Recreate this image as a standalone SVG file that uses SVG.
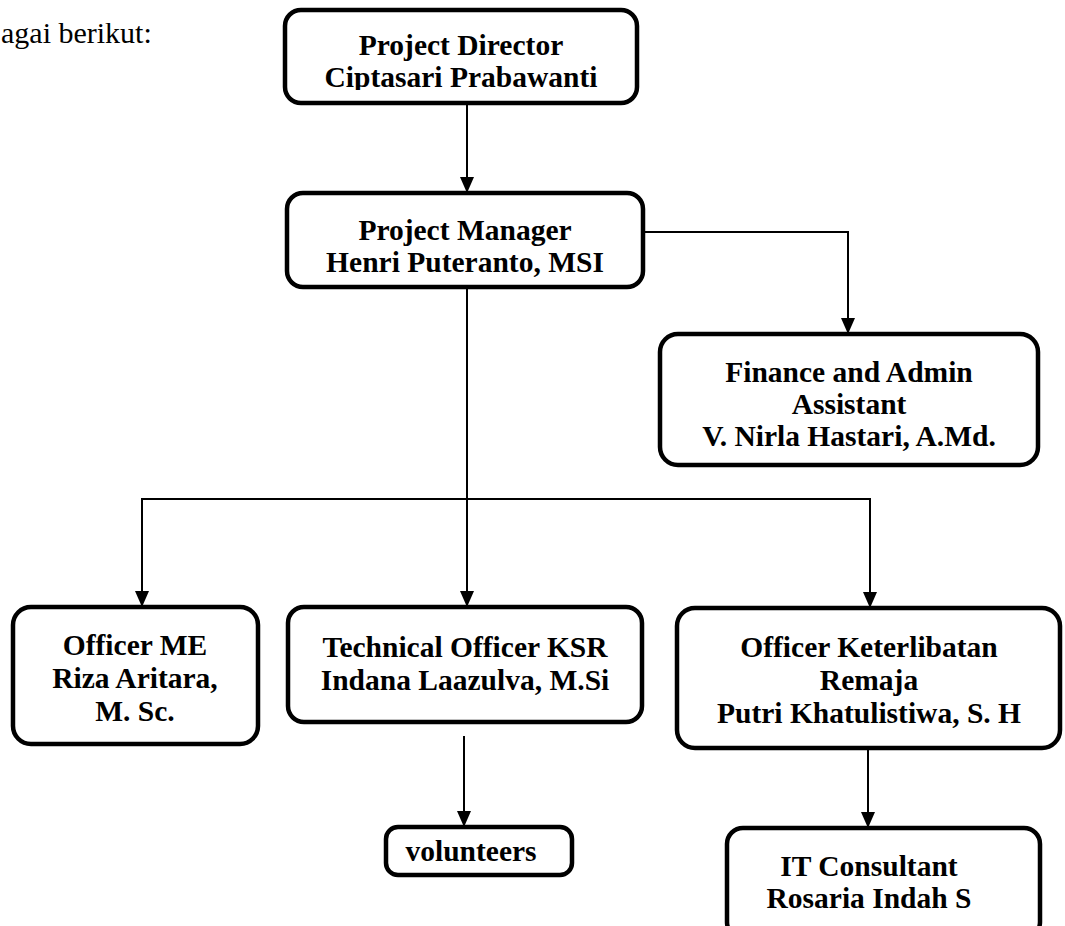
<svg xmlns="http://www.w3.org/2000/svg" width="1065" height="926" viewBox="0 0 1065 926">
<defs>
<marker id="arr" markerWidth="16" markerHeight="16" refX="15" refY="7" orient="auto" markerUnits="userSpaceOnUse">
<path d="M0,0 L16,7 L0,14 Z" fill="#000"/>
</marker>
<clipPath id="c1"><rect x="285" y="10" width="352" height="80"/></clipPath>
<clipPath id="c2"><rect x="287" y="193" width="356" height="87"/></clipPath>
<clipPath id="c3"><rect x="660" y="334" width="378" height="118"/></clipPath>
</defs>
<style>
.box{fill:#fff;stroke:#000;stroke-width:4.5}
.t{font-family:"Liberation Serif","Times New Roman",serif;font-weight:bold;font-size:29.5px;text-anchor:middle;fill:#000}
.p{font-family:"Liberation Serif","Times New Roman",serif;font-size:30px;fill:#000}
.c{fill:none;stroke:#000;stroke-width:2}
</style>
<rect width="1065" height="926" fill="#fff"/>
<text class="p" x="1" y="43">agai berikut:</text>
<g id="connectors">
<line class="c" x1="467" y1="103" x2="467" y2="192" marker-end="url(#arr)"/>
<polyline class="c" points="640,232 848,232 848,333" marker-end="url(#arr)"/>
<line class="c" x1="467" y1="287" x2="467" y2="606" marker-end="url(#arr)"/>
<polyline class="c" points="467,499 142,499 142,606" marker-end="url(#arr)"/>
<polyline class="c" points="467,499 870,499 870,607" marker-end="url(#arr)"/>
<line class="c" x1="464" y1="736" x2="464" y2="826" marker-end="url(#arr)"/>
<line class="c" x1="868" y1="748" x2="868" y2="827" marker-end="url(#arr)"/>
</g>
<g id="director">
<rect class="box" x="285" y="10" width="352" height="93" rx="16"/>
<g clip-path="url(#c1)">
<text class="t" x="461" y="55">Project Director</text>
<text class="t" x="461" y="87">Ciptasari Prabawanti</text>
</g>
</g>
<g id="manager">
<rect class="box" x="287" y="193" width="356" height="94" rx="16"/>
<g clip-path="url(#c2)">
<text class="t" x="465" y="240">Project Manager</text>
<text class="t" x="465" y="272">Henri Puteranto, MSI</text>
</g>
</g>
<g id="finance">
<rect class="box" x="660" y="334" width="378" height="131" rx="18"/>
<g clip-path="url(#c3)">
<text class="t" x="849" y="382">Finance and Admin</text>
<text class="t" x="849" y="414">Assistant</text>
<text class="t" x="849" y="446">V. Nirla Hastari, A.Md.</text>
</g>
</g>
<g id="officer-me">
<rect class="box" x="13" y="607" width="245" height="137" rx="18"/>
<text class="t" x="135" y="655">Officer ME</text>
<text class="t" x="135" y="688">Riza Aritara,</text>
<text class="t" x="135" y="721">M. Sc.</text>
</g>
<g id="technical">
<rect class="box" x="288" y="607" width="354" height="115" rx="16"/>
<text class="t" x="465" y="657">Technical Officer KSR</text>
<text class="t" x="465" y="690">Indana Laazulva, M.Si</text>
</g>
<g id="keterlibatan">
<rect class="box" x="677" y="608" width="383" height="140" rx="18"/>
<text class="t" x="869" y="657">Officer Keterlibatan</text>
<text class="t" x="869" y="690">Remaja</text>
<text class="t" x="869" y="723">Putri Khatulistiwa, S. H</text>
</g>
<g id="volunteers">
<rect class="box" x="386" y="827" width="186" height="48" rx="12"/>
<text class="t" x="471" y="861">volunteers</text>
</g>
<g id="it">
<rect class="box" x="727" y="828" width="313" height="110" rx="16"/>
<text class="t" x="869" y="876">IT Consultant</text>
<text class="t" x="869" y="908">Rosaria Indah S</text>
</g>
</svg>
